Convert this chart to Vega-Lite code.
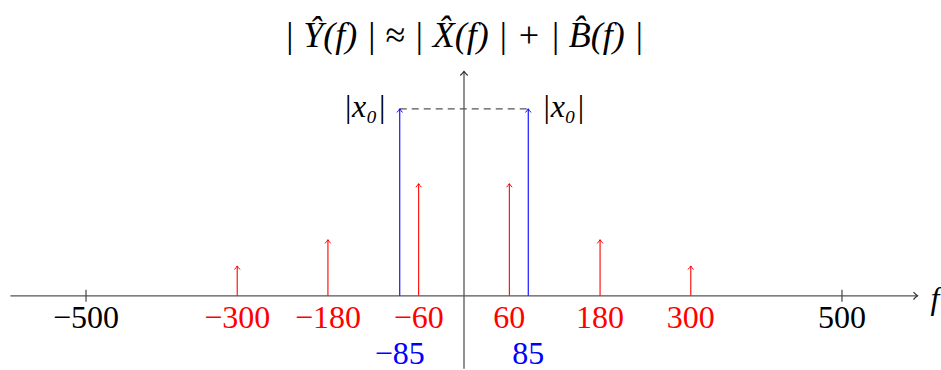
{
  "$schema": "https://vega.github.io/schema/vega-lite/v6.json",
  "width": 941,
  "height": 370,
  "autosize": {"type": "fit", "contains": "padding"},
  "padding": 0,
  "background": "white",
  "config": {"view": {"stroke": null}, "text": {"font": "Liberation Serif"}},
  "datasets": {
    "stems": [
      {"f": -300, "a": 0.16, "k": "noise"},
      {"f": -180, "a": 0.3, "k": "noise"},
      {"f": -60, "a": 0.6, "k": "noise"},
      {"f": 60, "a": 0.6, "k": "noise"},
      {"f": 180, "a": 0.3, "k": "noise"},
      {"f": 300, "a": 0.16, "k": "noise"},
      {"f": -85, "a": 1, "k": "signal"},
      {"f": 85, "a": 1, "k": "signal"}
    ],
    "labels1": [
      {"f": -500, "lab": "−500", "k": "axis"},
      {"f": -300, "lab": "−300", "k": "noise"},
      {"f": -180, "lab": "−180", "k": "noise"},
      {"f": -60, "lab": "−60", "k": "noise"},
      {"f": 60, "lab": "60", "k": "noise"},
      {"f": 180, "lab": "180", "k": "noise"},
      {"f": 300, "lab": "300", "k": "noise"},
      {"f": 500, "lab": "500", "k": "axis"}
    ],
    "labels2": [
      {"f": -85, "lab": "−85", "k": "signal"},
      {"f": 85, "lab": "85", "k": "signal"}
    ],
    "majorTicks": [{"f": -500}, {"f": 500}]
  },
  "layer": [
    {
      "data": {"values": [{"x1": -600, "x2": 600, "y1": 0}]},
      "mark": {"type": "rule", "color": "#555", "strokeWidth": 1.3},
      "encoding": {
        "x": {"field": "x1", "type": "quantitative", "scale": {"domain": [-613.8, 631], "nice": false, "zero": false}, "axis": null},
        "x2": {"field": "x2"},
        "y": {"field": "y1", "type": "quantitative", "scale": {"domain": [-0.386, 1.582], "nice": false, "zero": false}, "axis": null}
      }
    },
    {
      "data": {"values": [{"x1": 0, "y1": -0.39, "y2": 1.2}]},
      "mark": {"type": "rule", "color": "#555", "strokeWidth": 1.3},
      "encoding": {
        "x": {"field": "x1", "type": "quantitative"},
        "y": {"field": "y1", "type": "quantitative"},
        "y2": {"field": "y2"}
      }
    },
    {
      "data": {"name": "majorTicks"},
      "mark": {"type": "point", "filled": false, "color": "#444", "strokeWidth": 1.2, "opacity": 1, "size": 144, "shape": "M0,-1 L0,1"},
      "encoding": {
        "x": {"field": "f", "type": "quantitative"},
        "y": {"datum": 0, "type": "quantitative"}
      }
    },
    {
      "data": {"values": [{"x1": -85, "x2": 85, "v": 1}]},
      "mark": {"type": "rule", "color": "#555", "strokeWidth": 1.2, "strokeDash": [7, 5]},
      "encoding": {
        "x": {"field": "x1", "type": "quantitative"},
        "x2": {"field": "x2"},
        "y": {"field": "v", "type": "quantitative"}
      }
    },
    {
      "data": {"name": "stems"},
      "mark": {"type": "rule", "strokeWidth": 1.1},
      "encoding": {
        "x": {"field": "f", "type": "quantitative"},
        "y": {"field": "a", "type": "quantitative"},
        "y2": {"datum": 0},
        "color": {"field": "k", "type": "nominal", "scale": {"domain": ["axis", "signal", "noise"], "range": ["#000000", "#0000ff", "#ff0000"]}, "legend": null}
      }
    },
    {
      "data": {"name": "stems"},
      "mark": {"type": "point", "filled": false, "strokeWidth": 1, "opacity": 1, "size": 31, "shape": "M-1,1.3 Q-0.35,0.55 0,0 Q0.35,0.55 1,1.3"},
      "encoding": {
        "x": {"field": "f", "type": "quantitative"},
        "y": {"field": "a", "type": "quantitative"},
        "color": {"field": "k", "type": "nominal", "legend": null}
      }
    },
    {
      "data": {"values": [{"u": 0, "v": 1.2}]},
      "mark": {"type": "point", "filled": false, "strokeWidth": 1.2, "opacity": 1, "size": 55, "color": "#333", "shape": "M-1,1.1 Q-0.35,0.5 0,0 Q0.35,0.5 1,1.1"},
      "encoding": {
        "x": {"field": "u", "type": "quantitative"},
        "y": {"field": "v", "type": "quantitative"}
      }
    },
    {
      "data": {"values": [{"u": 600, "v": 0}]},
      "mark": {"type": "point", "filled": false, "strokeWidth": 1.2, "opacity": 1, "size": 55, "color": "#333", "shape": "M-1.1,-1 Q-0.5,-0.35 0,0 Q-0.5,0.35 -1.1,1"},
      "encoding": {
        "x": {"field": "u", "type": "quantitative"},
        "y": {"field": "v", "type": "quantitative"}
      }
    },
    {
      "data": {"name": "labels1"},
      "mark": {"type": "text", "fontSize": 32, "align": "center", "baseline": "alphabetic"},
      "encoding": {
        "x": {"field": "f", "type": "quantitative"},
        "y": {"datum": -0.173, "type": "quantitative"},
        "text": {"field": "lab", "type": "nominal"},
        "color": {"field": "k", "type": "nominal", "legend": null}
      }
    },
    {
      "data": {"name": "labels2"},
      "mark": {"type": "text", "fontSize": 32, "align": "center", "baseline": "alphabetic"},
      "encoding": {
        "x": {"field": "f", "type": "quantitative"},
        "y": {"datum": -0.364, "type": "quantitative"},
        "text": {"field": "lab", "type": "nominal"},
        "color": {"field": "k", "type": "nominal", "legend": null}
      }
    },
    {
      "data": {"values": [{"t": "|x₀|"}]},
      "mark": {"type": "text", "fontStyle": "italic", "fontSize": 32, "align": "right", "baseline": "middle", "color": "#000"},
      "encoding": {
        "x": {"datum": -103, "type": "quantitative"},
        "y": {"datum": 1.01, "type": "quantitative"},
        "text": {"field": "t", "type": "nominal"}
      }
    },
    {
      "data": {"values": [{"t": "|x₀|"}]},
      "mark": {"type": "text", "fontStyle": "italic", "fontSize": 32, "align": "left", "baseline": "middle", "color": "#000"},
      "encoding": {
        "x": {"datum": 103, "type": "quantitative"},
        "y": {"datum": 1.01, "type": "quantitative"},
        "text": {"field": "t", "type": "nominal"}
      }
    },
    {
      "data": {"values": [{"t": "f"}]},
      "mark": {"type": "text", "fontStyle": "italic", "fontSize": 32, "align": "left", "baseline": "middle", "color": "#000"},
      "encoding": {
        "x": {"datum": 617, "type": "quantitative"},
        "y": {"datum": -0.015, "type": "quantitative"},
        "text": {"field": "t", "type": "nominal"}
      }
    },
    {
      "data": {"values": [{"t": "| Ŷ(f) |  ≈  | X̂(f) |  +  | B̂(f) |"}]},
      "mark": {"type": "text", "fontStyle": "italic", "fontSize": 36, "align": "center", "baseline": "middle", "color": "#000"},
      "encoding": {
        "x": {"datum": 0, "type": "quantitative"},
        "y": {"datum": 1.391, "type": "quantitative"},
        "text": {"field": "t", "type": "nominal"}
      }
    }
  ]
}
